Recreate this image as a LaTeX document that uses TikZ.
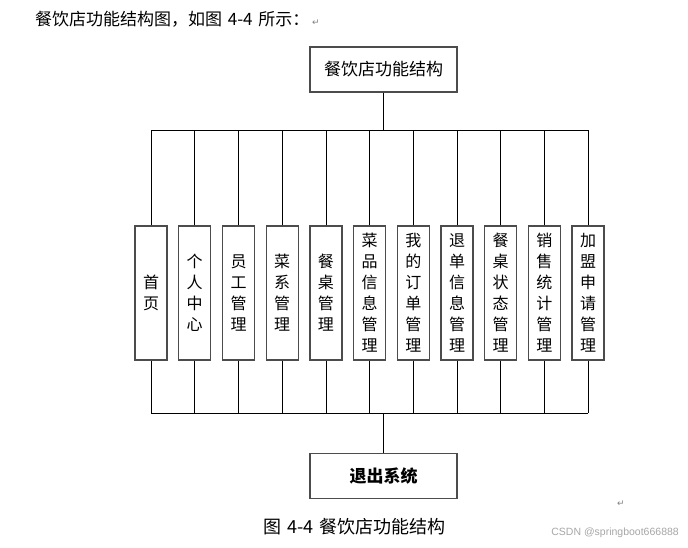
\documentclass[tikz,border=0pt]{standalone}
\usepackage{fontspec}
\setmainfont{Liberation Serif}
\newfontfamily\cjk{Noto Sans CJK SC}
\newfontfamily\symb{DejaVu Sans}
\begin{document}
\begin{tikzpicture}
  [x=1pt,y=-1pt,every node/.style={inner sep=0pt,font=\cjk},
   topbox/.style={draw=black!70,line width=1.2pt,minimum width=147pt,minimum height=45pt,font=\cjk\fontsize{17}{20}\selectfont},
   funcbox/.style={draw=black!70,line width=1.2pt,minimum width=32pt,minimum height=134pt,align=center,font=\cjk\fontsize{16}{21}\selectfont},
   link/.style={draw=black,line width=0.8pt}]
  \useasboundingbox (0,0) rectangle (688,547);

  % Texto de la pagina
  \node[anchor=west,font=\cjk\fontsize{17}{20}\selectfont] (head) at (35,19) {餐饮店功能结构图，如图\,\,4-4\,\,所示：\,{\symb\color{black!50}\fontsize{9}{10}\selectfont ↵}};

  % Caja superior
  \node[topbox] (root) at (383.5,69.5) {餐饮店功能结构};
  \coordinate (tbus) at (383.5,130);

  % Cajas de funciones
  \foreach \i/\x/\txt in {1/151/{首\\页}, 2/194.7/{个\\人\\中\\心}, 3/238.5/{员\\工\\管\\理},
      4/282.2/{菜\\系\\管\\理}, 5/325.9/{餐\\桌\\管\\理}, 6/369.6/{菜\\品\\信\\息\\管\\理},
      7/413.3/{我\\的\\订\\单\\管\\理}, 8/457/{退\\单\\信\\息\\管\\理}, 9/500.7/{餐\\桌\\状\\态\\管\\理},
      10/544.4/{销\\售\\统\\计\\管\\理}, 11/588/{加\\盟\\申\\请\\管\\理}}
    \node[funcbox] (m\i) at (\x,293) {\txt};
  \coordinate (bbus) at (383.5,413);

  % Caja inferior
  \node[topbox,font=\cjk\bfseries\fontsize{17}{20}\selectfont] (quit) at (383.5,476) {退出系统};

  % Lineas
  \draw[link] (root.south) -- (tbus);
  \draw[link] (m1.north |- tbus) -- (m11.north |- tbus);
  \draw[link] (m1.south |- bbus) -- (m11.south |- bbus);
  \foreach \i in {1,...,11} {
    \draw[link] (m\i.north) -- (m\i.north |- tbus);
    \draw[link] (m\i.south) -- (m\i.south |- bbus);
  }
  \draw[link] (bbus) -- (quit.north);

  % Pie de figura
  \node[anchor=west,font=\cjk\fontsize{18}{20}\selectfont] (cap) at (263,527) {图\,\,4-4\,\,餐饮店功能结构};
  \node[font=\symb\color{black!50}\fontsize{9}{10}\selectfont] (ret) at (621,504) {↵};
  \node[anchor=east,font=\fontspec{Liberation Sans}\color{black!35}\fontsize{10.5}{12}\selectfont] (mark) at (679,533) {CSDN @springboot666888};
\end{tikzpicture}
\end{document}
